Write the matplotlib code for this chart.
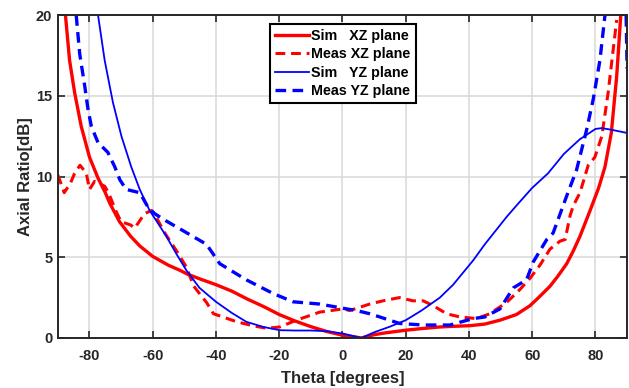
import matplotlib
matplotlib.use("Agg")
import matplotlib.pyplot as plt

plt.rcParams["font.family"] = ["Liberation Sans", "DejaVu Sans"]
plt.rcParams["font.weight"] = "bold"
plt.rcParams["axes.unicode_minus"] = False

# ---- Data ---------------------------------------------------------------------
sim_xz_theta = [-87.6, -86.3, -84.7, -82.6, -80, -77.3, -75, -73.6, -70.5, -67,
                -64.1, -60, -55, -51.5, -49, -45, -40, -35, -30, -25, -20,
                -15, -10, -5, 0, 6, 10, 13, 20, 25, 30.8, 35, 40.3, 45, 49.8, 55,
                59.3, 62, 65.6, 68, 70.9, 73, 75.1, 78.3, 81, 83, 85, 86.7, 88]
sim_xz_ar = [20, 17.2, 15.2, 13.1, 11.2, 9.9, 9.0, 8.35, 7.2, 6.3,
             5.7, 5.05, 4.5, 4.2, 3.95, 3.65, 3.3, 2.9, 2.4, 1.95, 1.45,
             1.05, 0.7, 0.4, 0.17, 0.0, 0.2, 0.3, 0.48, 0.58, 0.68, 0.72, 0.76,
             0.86, 1.1, 1.45, 2.0, 2.5, 3.2, 3.8, 4.6, 5.4, 6.3, 7.9, 9.3, 10.6,
             12.7, 16.2, 20]

meas_xz_theta = [-90, -88, -86, -84.7, -83, -81, -80, -78.4, -75.2, -74, -71.5,
                 -70, -67, -65.7, -62.6, -60.4, -58.4, -56.2, -52.5, -49.4, -47,
                 -43, -40.8, -33.4, -28.2, -24, -19.8, -14.6, -7.2, 0.2, 2.3, 5.5,
                 8.6, 12.8, 18, 22.3, 25.5, 28.7, 32.9, 37.1, 42.4, 46.6, 51.9,
                 56.1, 59.3, 62.4, 65.6, 68.8, 70.4, 72, 73, 75.1, 77.7, 79.8, 82,
                 84, 86.7]
meas_xz_ar = [10.1, 9.0, 9.6, 10.2, 10.7, 10.2, 9.2, 9.7, 9.4, 9.0, 7.8,
              7.2, 7.0, 6.8, 7.7, 7.9, 7.3, 6.5, 5.4, 4.4, 3.2,
              2.2, 1.5, 1.0, 0.75, 0.6, 0.68, 1.1, 1.6, 1.8, 1.7, 1.9,
              2.1, 2.3, 2.5, 2.3, 2.3, 2.0, 1.5, 1.3, 1.2, 1.5, 2.2,
              3.0, 3.7, 4.5, 5.5, 6.0, 6.1, 7.6, 8.2, 9.0, 10.7, 11.2, 12.5,
              15.2, 19.7]

sim_yz_theta = [-77.3, -75.2, -72.6, -69.9, -66.8, -64.1, -61, -58, -55.7, -52.5,
                -49.4, -45.2, -40, -35, -30.4, -25, -19.8, -15, -10, -5, 0.2, 6,
                10, 15, 20, 25, 30.8, 35, 41.3, 45, 51.9, 55, 60, 65, 70, 75, 80,
                82, 85, 90]
sim_yz_ar = [20, 17.2, 14.6, 12.5, 10.6, 9.2, 7.9, 7.0, 6.3, 5.2,
             4.2, 3.1, 2.24, 1.55, 1.0, 0.68, 0.48, 0.46, 0.46, 0.42, 0.27, 0.0,
             0.35, 0.7, 1.1, 1.7, 2.5, 3.3, 4.8, 5.8, 7.5, 8.2, 9.3, 10.2, 11.4,
             12.3, 12.95, 13.0, 12.9, 12.7]

meas_yz_theta = [-84.2, -83.1, -81.5, -80.5, -79.4, -77.3, -74.2, -72, -70.4,
                 -68.4, -64.1, -61.5, -59.4, -56.2, -50.9, -43, -38.8, -30.4,
                 -21.9, -15.6, -7.2, 1.3, 4.4, 8.6, 11.8, 18, 25.5, 34, 41.3, 45,
                 49.8, 54, 58.2, 60.3, 64.6, 66.6, 70.9, 74, 77.2, 79.3, 81.4, 83,
                 86, 89.5, 90]
meas_yz_ar = [20, 17.6, 15.6, 14.2, 13.1, 12.1, 11.5, 10.6, 9.8,
              9.2, 9.0, 8.1, 7.7, 7.3, 6.7, 5.8, 4.6, 3.6,
              2.75, 2.24, 2.1, 1.8, 1.7, 1.5, 1.3, 0.9, 0.8, 0.8, 1.2, 1.3,
              1.8, 3.1, 3.6, 4.7, 6.1, 6.5, 8.8, 10.4, 12.9, 14.8, 17.2, 20,
              26, 22, 16.7]

x_ticks = [-80, -60, -40, -20, 0, 20, 40, 60, 80]
y_ticks = [0, 5, 10, 15, 20]

# ---- Figure ---------------------------------------------------------------------
fig = plt.figure(figsize=(6.29, 3.88), dpi=100)
ax = fig.add_axes([0.092, 0.129, 0.905, 0.832])

DASH = (3.2, 1.9)
ax.plot(sim_xz_theta, sim_xz_ar, color="#ff0000", lw=2.4, label="Sim   XZ plane")
ax.plot(meas_xz_theta, meas_xz_ar, color="#ff0000", lw=2.2, dashes=DASH,
        label="Meas XZ plane")
ax.plot(sim_yz_theta, sim_yz_ar, color="#0000ff", lw=1.3, label="Sim   YZ plane")
ax.plot(meas_yz_theta, meas_yz_ar, color="#0000ff", lw=2.4, dashes=DASH,
        label="Meas YZ plane")

ax.set_xlim(-90, 90)
ax.set_ylim(0, 20)
ax.set_xticks(x_ticks)
ax.set_yticks(y_ticks)
ax.grid(True, color="#d9d9d9", lw=1.1)
ax.set_axisbelow(True)
ax.tick_params(direction="in", top=True, right=True, length=5, width=1.2,
               labelsize=10.5, colors="#262626")
ax.tick_params(axis="x", pad=8)
ax.tick_params(axis="y", pad=4)
for lab in ax.get_xticklabels() + ax.get_yticklabels():
    lab.set_fontweight("bold")
for sp in ax.spines.values():
    sp.set_color("#262626")
    sp.set_linewidth(1.4)

ax.set_xlabel("Theta [degrees]", fontsize=12, fontweight="bold", color="#262626",
              labelpad=6)
ax.set_ylabel("Axial Ratio[dB]", fontsize=12, fontweight="bold", color="#262626",
              labelpad=2)

leg = ax.legend(loc="upper left", bbox_to_anchor=(0.3726, 0.972),
                borderaxespad=0, handlelength=2.4,
                handletextpad=0.15, labelspacing=0.3, borderpad=0.35,
                fancybox=False, framealpha=1, edgecolor="#000000",
                prop={"weight": "bold", "size": 10.3})
leg.get_frame().set_linewidth(1.5)

fig.savefig("out.png", dpi=100, facecolor="white")
